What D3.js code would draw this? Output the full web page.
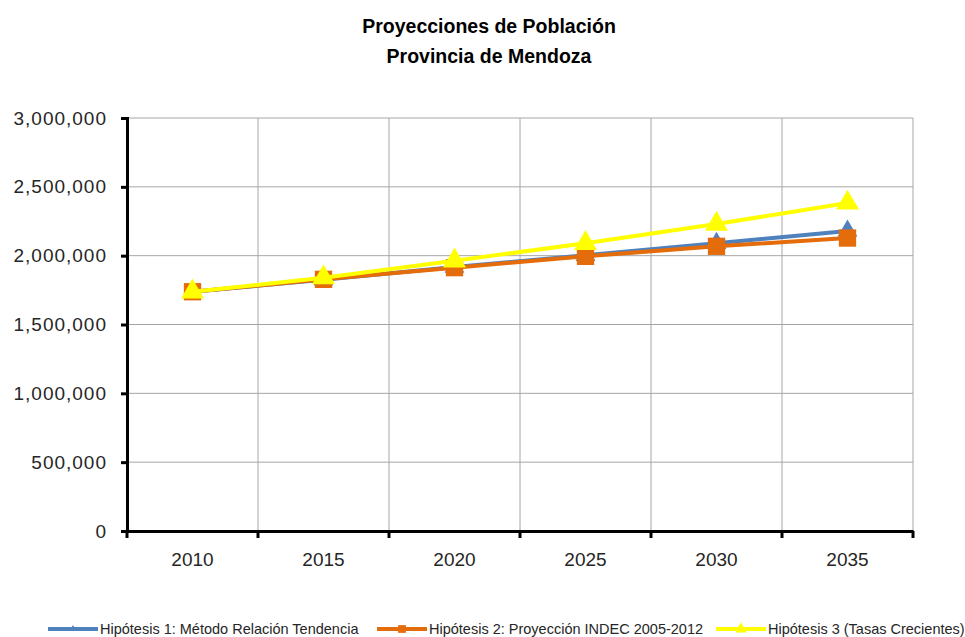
<!DOCTYPE html>
<html>
<head>
<meta charset="utf-8">
<script src="https://cdn.jsdelivr.net/npm/d3@7"></script>
<style>
  body { margin:0; background:#fff; }
  svg { display:block; }
</style>
</head>
<body>
<div id="chart"></div>
<script>
// data
var years = ["2010","2015","2020","2025","2030","2035"];
var hip1 = [1738000, 1825000, 1918000, 2003000, 2090000, 2180000];
var hip2 = [1738000, 1828000, 1913000, 1995000, 2068000, 2128000];
var hip3 = [1738000, 1840000, 1963000, 2090000, 2230000, 2383000];
var yTicks = [0, 500000, 1000000, 1500000, 2000000, 2500000, 3000000];
var seriesNames = ["Hipótesis 1: Método Relación Tendencia",
                   "Hipótesis 2: Proyección INDEC 2005-2012",
                   "Hipótesis 3 (Tasas Crecientes)"];

var W = 965, H = 637;
var pLeft = 127, pRight = 913, pTop = 118, pBottom = 531;
var FONT = "Liberation Sans, Arial, sans-serif";

var svg = d3.select("#chart").append("svg")
  .attr("width", W).attr("height", H);

var x = d3.scaleBand().domain(years).range([pLeft, pRight]);
var y = d3.scaleLinear().domain([0, 3000000]).range([pBottom, pTop]);
var fmt = d3.format(",");

// title
svg.append("text")
  .attr("x", 489).attr("y", 33)
  .attr("text-anchor", "middle")
  .attr("font-family", FONT)
  .attr("font-weight", "bold").attr("font-size", 19.5)
  .text("Proyecciones de Población");
svg.append("text")
  .attr("x", 489).attr("y", 63)
  .attr("text-anchor", "middle")
  .attr("font-family", FONT)
  .attr("font-weight", "bold").attr("font-size", 19.5)
  .text("Provincia de Mendoza");

// gridlines
svg.append("g").selectAll("line")
  .data(yTicks.slice(1)).enter().append("line")
  .attr("x1", pLeft).attr("x2", pRight)
  .attr("y1", function(d) { return y(d); })
  .attr("y2", function(d) { return y(d); })
  .attr("stroke", "#a6a6a6").attr("stroke-width", 1);

var bounds = years.map(function(d) { return x(d) + x.bandwidth(); });
svg.append("g").selectAll("line")
  .data(bounds).enter().append("line")
  .attr("x1", function(d) { return d; })
  .attr("x2", function(d) { return d; })
  .attr("y1", pTop).attr("y2", pBottom)
  .attr("stroke", "#a6a6a6").attr("stroke-width", 1);

// y axis
var yAxis = svg.append("g")
  .attr("transform", "translate(" + pLeft + ",0)")
  .call(d3.axisLeft(y).tickValues(yTicks).tickFormat(fmt).tickSize(6).tickPadding(14));
yAxis.select(".domain").attr("stroke", "#000").attr("stroke-width", 3);
yAxis.selectAll(".tick line").attr("stroke", "#000").attr("stroke-width", 3);
yAxis.selectAll("text")
  .attr("font-family", FONT)
  .attr("font-size", 19).attr("letter-spacing", 1).attr("fill", "#262626");

// x axis
var xAxis = svg.append("g")
  .attr("transform", "translate(0," + pBottom + ")")
  .call(d3.axisBottom(x).tickSize(0).tickPadding(22));
xAxis.select(".domain").attr("stroke", "#000").attr("stroke-width", 3);
xAxis.selectAll("text")
  .attr("font-family", FONT)
  .attr("font-size", 19).attr("fill", "#262626");
xAxis.selectAll("line.bt")
  .data([pLeft].concat(bounds)).enter().append("line")
  .attr("class", "bt")
  .attr("x1", function(d) { return d; }).attr("x2", function(d) { return d; })
  .attr("y1", 0).attr("y2", 7)
  .attr("stroke", "#000").attr("stroke-width", 3);

var line = d3.line()
  .x(function(d, i) { return x(years[i]) + x.bandwidth() / 2; })
  .y(function(d) { return y(d); });

var series = [
  { vals: hip1, color: "#4f81bd", marker: "triangle", size: 170 },
  { vals: hip2, color: "#e46c0a", marker: "square", size: 300 },
  { vals: hip3, color: "#ffff00", marker: "triangle", size: 230 }
];

series.forEach(function(s) {
  svg.append("path")
    .datum(s.vals)
    .attr("d", line)
    .attr("fill", "none")
    .attr("stroke", s.color)
    .attr("stroke-width", 4);
  var sym = d3.symbol()
    .type(s.marker == "square" ? d3.symbolSquare : d3.symbolTriangle)
    .size(s.size);
  svg.append("g").selectAll("path")
    .data(s.vals).enter().append("path")
    .attr("d", sym)
    .attr("transform", function(d, i) {
      return "translate(" + (x(years[i]) + x.bandwidth() / 2) + "," + y(d) + ")";
    })
    .attr("fill", s.color);
});

// legend
var legX = [48, 377, 716];
var leg = svg.append("g");
series.forEach(function(s, i) {
  var g = leg.append("g").attr("transform", "translate(" + legX[i] + ",629)");
  g.append("line")
    .attr("x1", 0).attr("x2", 50).attr("y1", 0).attr("y2", 0)
    .attr("stroke", s.color).attr("stroke-width", 4);
  g.append("path")
    .attr("d", d3.symbol()
      .type(s.marker == "square" ? d3.symbolSquare : d3.symbolTriangle)
      .size(i == 0 ? 20 : 60))
    .attr("transform", "translate(25,0)")
    .attr("fill", s.color);
  g.append("text")
    .attr("x", 52).attr("y", 5)
    .attr("font-family", FONT)
    .attr("font-size", 14.5).attr("fill", "#262626")
    .text(seriesNames[i]);
});
</script>
</body>
</html>
